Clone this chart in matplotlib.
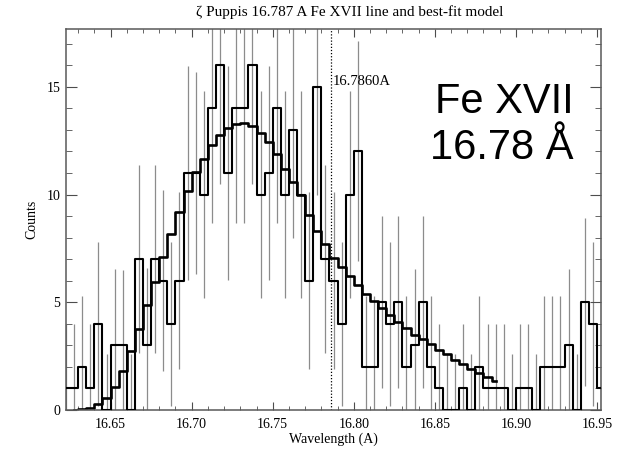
import numpy as np
import matplotlib.pyplot as plt

# binned counts (bin centres every 0.005 A, first centre 16.6225 A)
counts = [1, 1, 2, 1, 4, 0, 3, 3, 0, 7, 3, 7, 6, 4, 6, 11, 11, 10, 14, 16,
          11, 14, 14, 16, 10, 11, 14, 10, 13, 10, 6, 15, 7, 6, 4, 10, 12, 2, 2, 5,
          4, 5, 2, 3, 5, 2, 1, 0, 0, 1, 0, 2, 1, 1, 1, 0, 1, 1, 0, 2,
          2, 2, 3, 0, 5, 4, 1]
# error bar half-lengths
errors = [3.0, 3.0, 3.3, 3.0, 3.8, 2.6, 3.55, 3.5, 2.6, 4.35, 3.6, 4.35, 4.2, 3.8, 4.1, 4.95, 4.7, 4.8, 5.3, 5.5,
          4.95, 5.3, 5.3, 5.5, 4.8, 4.95, 5.3, 4.8, 5.0, 4.8, 4.1, 5.0, 4.35, 4.1, 3.8, 4.8, 5.1, 3.3, 3.3, 4.0,
          3.8, 4.0, 3.3, 3.55, 4.0, 3.3, 3.0, 2.6, 2.6, 3.0, 2.6, 3.3, 3.0, 3.0, 3.0, 2.6, 3.0, 3.0, 2.6, 3.3,
          3.3, 3.3, 3.55, 2.6, 3.9, 3.8, 3.0]
# best-fit model, from the 2nd to the 54th bin
model = [0.02, 0.04, 0.09, 0.28, 0.57, 1.08, 1.83, 2.75, 3.76, 4.86,
         5.96, 7.08, 8.18, 9.18, 10.15, 11.05, 11.67, 12.28, 12.78, 13.07,
         13.28, 13.3, 13.16, 12.87, 12.45, 11.87, 11.2, 10.6, 10.0, 9.03,
         8.31, 7.69, 7.07, 6.65, 6.2, 5.8, 5.4, 5.06, 4.72, 4.4,
         4.1, 3.8, 3.5, 3.3, 3.04, 2.78, 2.58, 2.32, 2.12, 1.9,
         1.7, 1.52, 1.33]
line_wl = 16.786

wl = np.round(16.6225 + 0.005 * np.arange(len(counts)), 4)
counts = np.array(counts, dtype=float)
errors = np.array(errors)
wl_model = wl[1:1 + len(model)]

serif = 'Liberation Serif'

fig = plt.figure(figsize=(6.31, 4.51), dpi=100)
ax = fig.add_axes([0.1046, 0.0909, 0.8479, 0.8448])

ax.vlines(wl, np.clip(counts - errors, 0, None), counts + errors, color='0.55', lw=0.9, zorder=1)
ax.plot(wl, counts, drawstyle='steps-mid', color='k', lw=1.5, zorder=3)
ax.plot(wl_model, model, drawstyle='steps-mid', color='k', lw=1.9, zorder=2)
ax.axvline(line_wl, color='k', ls=(0, (1, 1.5)), lw=0.9)
ax.text(line_wl + 0.0008, 15.24, '16.7860A', family=serif, fontsize=10.5, va='center', ha='left')

ax.text(0.815, 0.748, 'Fe XVII\n16.78 Å', transform=ax.transAxes, family='Liberation Sans',
        fontsize=30, ha='center', va='center', multialignment='right', linespacing=1.22)

ax.set_xlim(16.6225, 16.9525)
ax.set_ylim(0, 17.68)
ax.set_xticks([16.65, 16.70, 16.75, 16.80, 16.85, 16.90, 16.95])
ax.set_xticks(np.arange(16.63, 16.951, 0.01), minor=True)
ax.set_yticks([0, 5, 10, 15])
ax.set_yticks(np.arange(0, 18), minor=True)
ax.tick_params(which='both', direction='in', top=True, right=True, color='0.3')
ax.tick_params(axis='x', which='major', length=5.8, pad=6)
ax.tick_params(axis='x', which='minor', length=2.9)
ax.tick_params(axis='y', which='major', length=7.9, pad=4)
ax.tick_params(axis='y', which='minor', length=4.0)
for lab in ax.get_xticklabels() + ax.get_yticklabels():
    lab.set_family(serif)
    lab.set_fontsize(10)
for s in ax.spines.values():
    s.set_color('0.35')
    s.set_linewidth(1.1)

ax.set_xlabel('Wavelength (A)', family=serif, fontsize=10, labelpad=1)
ax.set_ylabel('Counts', family=serif, fontsize=10, labelpad=6)
fig.text(350 / 631, 1 - 12 / 451, 'ζ Puppis 16.787 A Fe XVII line and best-fit model',
         family=serif, fontsize=11, ha='center', va='center')

fig.savefig('out.png', dpi=100)
